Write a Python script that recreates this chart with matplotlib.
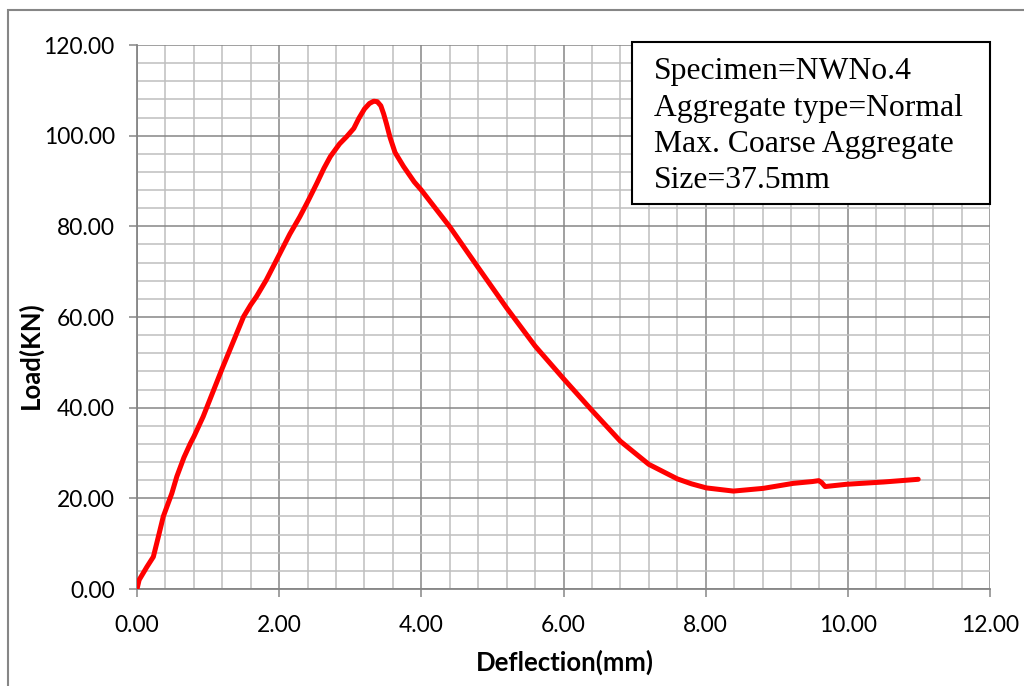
import matplotlib
matplotlib.use('Agg')
import matplotlib.pyplot as plt
from matplotlib.patches import Rectangle
from matplotlib.ticker import MultipleLocator

# load-deflection readings
deflection = [0.00, 0.03, 0.14, 0.23, 0.30, 0.37, 0.49, 0.56, 0.66, 0.75,
              0.80, 0.93, 1.20, 1.50, 1.60, 1.68, 1.82, 2.00, 2.15, 2.29,
              2.40, 2.53, 2.63, 2.72, 2.85, 2.95, 3.05, 3.12, 3.20, 3.27,
              3.33, 3.38, 3.43, 3.47, 3.51, 3.56, 3.63, 3.75, 3.90, 4.00,
              4.40, 4.80, 5.20, 5.60, 6.00, 6.40, 6.80, 7.20, 7.60, 7.80,
              8.01, 8.39, 8.81, 9.23, 9.50, 9.59, 9.63, 9.68, 9.98, 10.50,
              10.99]
load = [0.0, 2.0, 4.9, 7.1, 11.5, 16.0, 21.1, 24.8, 29.0, 32.1,
        33.6, 38.0, 48.7, 60.1, 62.7, 64.5, 68.2, 73.7, 78.3, 82.1,
        85.4, 89.5, 92.8, 95.4, 98.2, 99.8, 101.6, 103.8, 105.9, 107.1,
        107.6, 107.5, 106.6, 104.8, 102.6, 99.6, 96.3, 93.2, 89.8, 88.0,
        79.9, 70.9, 62.0, 53.6, 46.4, 39.4, 32.6, 27.5, 24.3, 23.2,
        22.3, 21.6, 22.2, 23.3, 23.7, 23.9, 23.5, 22.6, 23.1, 23.6,
        24.2]

info_lines = ['Specimen=NWNo.4', 'Aggregate type=Normal',
              'Max. Coarse Aggregate', 'Size=37.5mm']

W, H = 1024, 686
fig = plt.figure(figsize=(W / 100, H / 100), dpi=100)
ax = fig.add_axes([137 / W, 1 - 589 / H, (990 - 137) / W, (589 - 45) / H])

major_col = '#868686'
minor_col = '#bfbfbf'

ax.plot(deflection, load, color='#ff0000', lw=3.6, solid_joinstyle='round',
        solid_capstyle='round', zorder=3)

ax.set_xlim(0, 12)
ax.set_ylim(0, 120)
ax.xaxis.set_major_locator(MultipleLocator(2))
ax.xaxis.set_minor_locator(MultipleLocator(0.4))
ax.yaxis.set_major_locator(MultipleLocator(20))
ax.yaxis.set_minor_locator(MultipleLocator(4))
ax.xaxis.set_major_formatter(lambda v, p: f'{v:.2f}')
ax.yaxis.set_major_formatter(lambda v, p: f'{v:.2f}')

ax.grid(which='minor', color=minor_col, lw=1.1, zorder=0)
ax.grid(which='major', color=major_col, lw=1.1, zorder=1)
ax.set_axisbelow(True)

for s in ['top', 'right']:
    ax.spines[s].set_visible(False)
for s in ['left', 'bottom']:
    ax.spines[s].set_color(major_col)
    ax.spines[s].set_linewidth(1.3)

ax.tick_params(which='major', direction='out', length=6, width=1.1,
               color=major_col, labelsize=16.4)
ax.tick_params(axis='x', which='major', pad=13)
ax.tick_params(axis='y', which='major', pad=10)
ax.tick_params(which='minor', length=0)
for lab in ax.get_xticklabels() + ax.get_yticklabels():
    lab.set_fontfamily('Lato')

ax.set_xlabel('Deflection(mm)', fontsize=18.5, fontweight='bold',
              family='Lato', va='center', ha='center')
ax.set_ylabel('Load(KN)', fontsize=18.5, fontweight='bold',
              family='Lato', va='center', ha='center')
ax.xaxis.set_label_coords((565 - 137) / 853, (589 - 662) / 544)
ax.yaxis.set_label_coords((30 - 137) / 853, (589 - 355) / 544)

# info box
fig.patches.append(Rectangle((632 / W, 1 - 204 / H), (990 - 632) / W,
                             (204 - 42) / H, transform=fig.transFigure,
                             facecolor='white', edgecolor='black', lw=1.5,
                             zorder=5))
for i, line in enumerate(info_lines):
    fig.text(654 / W, 1 - (79.5 + i * 36.3) / H, line, fontsize=22.8,
             family='Liberation Serif', va='baseline', ha='left', zorder=6)

# chart area border
fig.patches.append(Rectangle((8 / W, -0.05), 1.1, 1 - 10 / H + 0.05,
                             transform=fig.transFigure, facecolor='none',
                             edgecolor=major_col, lw=1.5, zorder=0))

fig.savefig('out.png', dpi=100)
